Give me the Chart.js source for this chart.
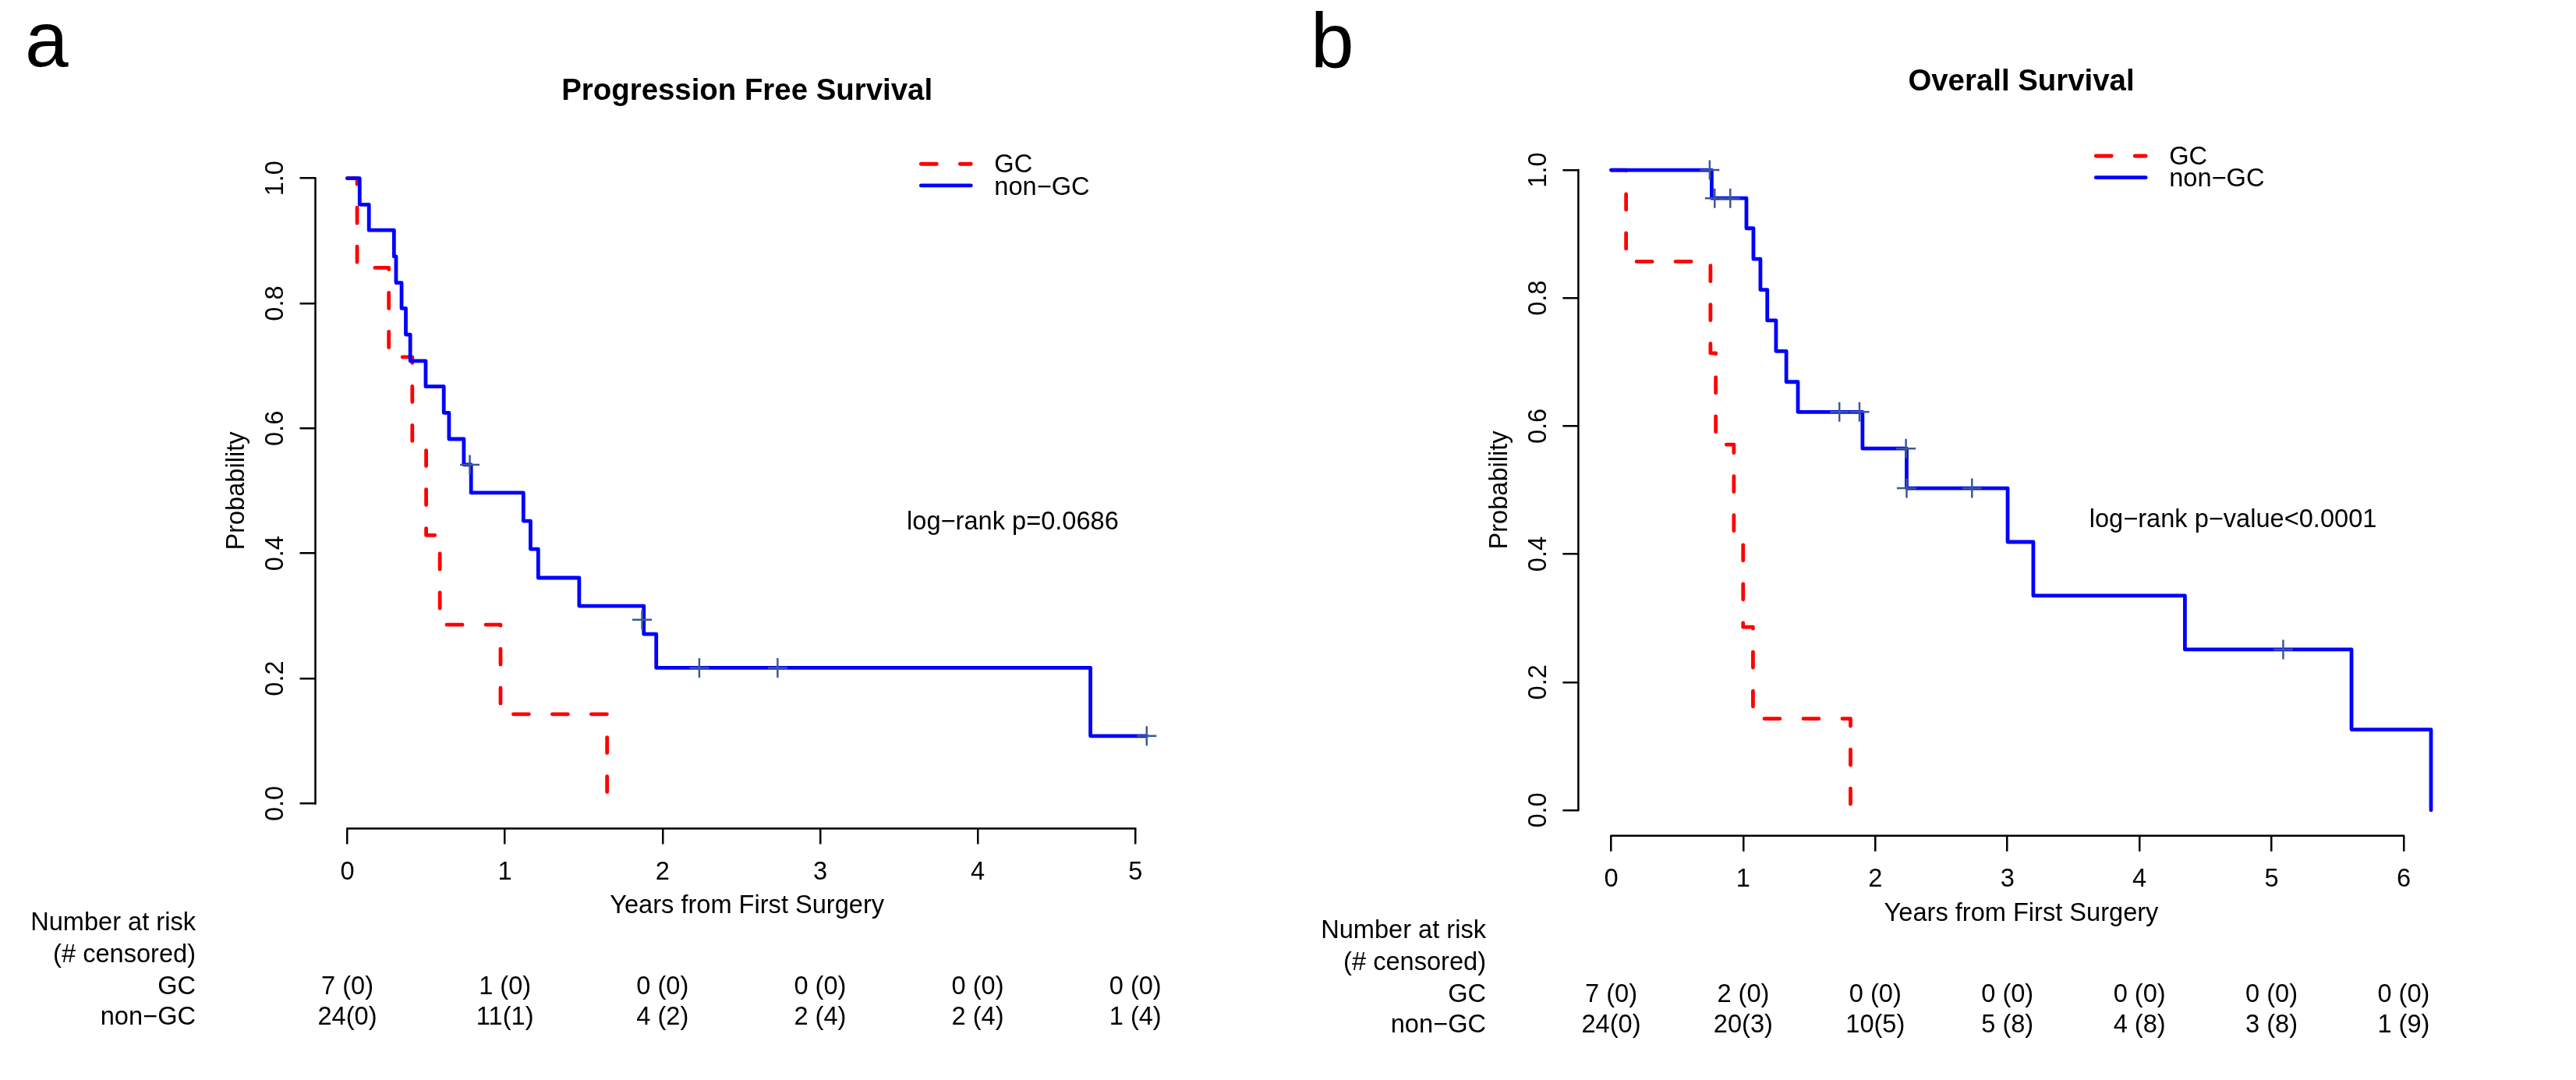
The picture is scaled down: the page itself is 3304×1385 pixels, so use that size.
<!DOCTYPE html>
<html>
<head>
  <title>GC vs non-GC survival</title>
  <script src="https://cdn.jsdelivr.net/npm/chart.js"></script>
  <style>
    body {
      margin: 0;
      background: #fff;
    }
    canvas {
      position: absolute;
      top: 0;
    }
    #pfsChart { left: 0; }
    #osChart { left: 1650px; }
  </style>
</head>
<body>
  <canvas id="pfsChart" width="1650" height="1385"></canvas>
  <canvas id="osChart" width="1654" height="1385"></canvas>

  <script>
    // ---- Progression free survival (panel a) ----
    const pfsGcTime = [0, 0.062, 0.263, 0.412, 0.500, 0.587, 0.972, 1.648];
    const pfsGcSurv = [1, 0.857, 0.714, 0.571, 0.429, 0.286, 0.143, 0];
    const pfsNonGcTime = [0, 0.078, 0.137, 0.296, 0.309, 0.344, 0.371, 0.399, 0.497, 0.612, 0.645,
                          0.739, 0.785, 1.117, 1.162, 1.211, 1.471, 1.881, 1.960, 4.715, 5.072];
    const pfsNonGcSurv = [1, 0.958, 0.917, 0.875, 0.833, 0.792, 0.750, 0.708, 0.667, 0.625, 0.583,
                          0.542, 0.497, 0.452, 0.407, 0.361, 0.316, 0.271, 0.217, 0.108, 0.108];
    const pfsCensorTime = [0.777, 1.870, 2.233, 2.730, 5.072];
    const pfsCensorSurv = [0.542, 0.294, 0.217, 0.217, 0.108];
    const pfsYearTicks = [0, 1, 2, 3, 4, 5];
    const pfsRiskGc = ['7 (0)', '1 (0)', '0 (0)', '0 (0)', '0 (0)', '0 (0)'];
    const pfsRiskNonGc = ['24(0)', '11(1)', '4 (2)', '2 (4)', '2 (4)', '1 (4)'];

    // ---- Overall survival (panel b) ----
    const osGcTime = [0, 0.113, 0.752, 0.792, 0.929, 0.999, 1.074, 1.812];
    const osGcSurv = [1, 0.857, 0.714, 0.571, 0.429, 0.286, 0.143, 0];
    const osNonGcTime = [0, 0.761, 1.024, 1.077, 1.130, 1.182, 1.248, 1.326, 1.414, 1.903,
                         2.237, 3.002, 3.196, 4.344, 5.605, 6.207];
    const osNonGcSurv = [1, 0.956, 0.909, 0.861, 0.813, 0.765, 0.717, 0.669, 0.622, 0.565,
                         0.503, 0.419, 0.335, 0.251, 0.126, 0];
    const osCensorTime = [0.746, 0.784, 0.902, 1.728, 1.880, 2.232, 2.237, 2.732, 5.088];
    const osCensorSurv = [1.0, 0.956, 0.956, 0.622, 0.622, 0.565, 0.503, 0.503, 0.251];
    const osYearTicks = [0, 1, 2, 3, 4, 5, 6];
    const osRiskGc = ['7 (0)', '2 (0)', '0 (0)', '0 (0)', '0 (0)', '0 (0)', '0 (0)'];
    const osRiskNonGc = ['24(0)', '20(3)', '10(5)', '5 (8)', '4 (8)', '3 (8)', '1 (9)'];

    const probTicks = [0, 0.2, 0.4, 0.6, 0.8, 1.0];
    // R draws the hyphen as a minus sign
    const groups = ['GC', 'non\u2212GC'];

    const FAMILY = '"Liberation Sans", Arial, Helvetica, sans-serif';
    const TXT = 32.6;
    const LW = 4.8;
    const RED = '#ff0000', BLUE = '#0000ff', CROSS = '#3b5998';
    const DASH = [20, 30];

    function font(size, bold) {
      return (bold ? 'bold ' : '') + size + 'px ' + FAMILY;
    }

    function pts(xs, ys) {
      return xs.map((t, i) => ({ x: t, y: ys[i] }));
    }

    // R style decorations: detached axis lines, titles, legend, number at risk table
    const kmDecor = {
      id: 'kmDecor',
      afterDraw(chart, args, o) {
        const { ctx, chartArea: a, scales: { x, y } } = chart;
        const xt = o.yearTicks;
        ctx.save();

        ctx.strokeStyle = '#000';
        ctx.lineWidth = 2.5;
        ctx.beginPath();
        ctx.moveTo(x.getPixelForValue(xt[0]) - 1.25, a.bottom);
        ctx.lineTo(x.getPixelForValue(xt[xt.length - 1]) + 1.25, a.bottom);
        ctx.moveTo(a.left, y.getPixelForValue(0) + 1.25);
        ctx.lineTo(a.left, y.getPixelForValue(1) - 1.25);
        ctx.stroke();

        ctx.fillStyle = '#000';
        ctx.font = font(100);
        ctx.textAlign = 'left';
        ctx.textBaseline = 'alphabetic';
        ctx.fillText(o.letter, o.letterPos[0], o.letterPos[1]);

        ctx.font = font(38.4, true);
        ctx.textAlign = 'center';
        ctx.fillText(o.title, (a.left + a.right) / 2, a.top - 69);

        ctx.font = font(TXT);
        ctx.textBaseline = 'middle';
        ctx.fillText('Years from First Surgery', (a.left + a.right) / 2, a.bottom + 100);
        ctx.save();
        ctx.translate(a.left - 100, y.getPixelForValue(0.5));
        ctx.rotate(-Math.PI / 2);
        ctx.fillText('Probability', 0, 0);
        ctx.restore();

        // legend
        const lx = x.getPixelForValue(o.legendAt[0]);
        const ly = y.getPixelForValue(o.legendAt[1]);
        ctx.lineWidth = LW;
        ctx.lineCap = 'round';
        [[RED, DASH], [BLUE, []]].forEach(([c, d], i) => {
          ctx.strokeStyle = c;
          ctx.setLineDash(d);
          ctx.beginPath();
          ctx.moveTo(lx, ly + i * 27.7);
          ctx.lineTo(lx + 64, ly + i * 27.7);
          ctx.stroke();
        });
        ctx.setLineDash([]);
        ctx.textAlign = 'left';
        groups.forEach((g, i) => ctx.fillText(g, lx + 94, ly + 2 + i * 28.5));

        ctx.fillText(o.pText, x.getPixelForValue(o.pAt[0]), y.getPixelForValue(o.pAt[1]));

        // number at risk
        const rowY = [122, 163, 204, 243].map(d => a.bottom + d);
        ctx.textAlign = 'right';
        ctx.fillText('Number at risk', o.riskLabelRight, rowY[0]);
        ctx.fillText('(# censored)', o.riskLabelRight, rowY[1]);
        ctx.fillText(groups[0], o.riskLabelRight, rowY[2]);
        ctx.fillText(groups[1], o.riskLabelRight, rowY[3]);
        ctx.textAlign = 'center';
        [o.riskGc, o.riskNonGc].forEach((row, r) => {
          row.forEach((s, i) => ctx.fillText(s, x.getPixelForValue(xt[i]), rowY[r + 2]));
        });
        ctx.restore();
      }
    };

    function kmChart(id, cfg) {
      const datasets = [
        {
          type: 'scatter',
          data: pts(cfg.censorTime, cfg.censorSurv),
          pointStyle: 'cross',
          pointRadius: 12.5,
          borderColor: CROSS,
          borderWidth: 2.5,
          order: 0
        },
        {
          data: pts(cfg.nonGcTime, cfg.nonGcSurv),
          borderColor: BLUE,
          order: 1
        },
        {
          data: pts(cfg.gcTime, cfg.gcSurv),
          borderColor: RED,
          borderDash: DASH,
          order: 2
        }
      ];
      datasets.slice(1).forEach(d => {
        d.type = 'line';
        d.stepped = true;
        d.borderWidth = LW;
        d.pointRadius = 0;
        d.fill = false;
        d.borderCapStyle = 'round';
        d.borderJoinStyle = 'round';
      });

      return new Chart(document.getElementById(id), {
        type: 'line',
        data: { datasets },
        options: {
          responsive: false,
          animation: false,
          events: [],
          layout: { padding: cfg.padding },
          plugins: {
            legend: { display: false },
            tooltip: { enabled: false },
            kmDecor: cfg.decor
          },
          scales: {
            x: {
              type: 'linear',
              min: cfg.xRange[0],
              max: cfg.xRange[1],
              afterBuildTicks: s => { s.ticks = cfg.decor.yearTicks.map(v => ({ value: v })); },
              afterFit: s => { s.height = 100; },
              grid: { drawOnChartArea: false, drawTicks: true, tickLength: 20, color: '#000', lineWidth: 2.5 },
              border: { display: false },
              ticks: { color: '#000', font: { family: FAMILY, size: TXT }, padding: 17, maxRotation: 0, autoSkip: false }
            },
            y: {
              type: 'linear',
              min: -0.04,
              max: 1.04,
              afterBuildTicks: s => { s.ticks = probTicks.map(v => ({ value: v })); },
              afterFit: s => { s.width = 100; },
              grid: { drawOnChartArea: false, drawTicks: true, tickLength: 20, color: '#000', lineWidth: 2.5 },
              border: { display: false },
              ticks: {
                color: '#000',
                font: { family: FAMILY, size: TXT },
                minRotation: 90,
                maxRotation: 90,
                crossAlign: 'center',
                padding: 8,
                autoSkip: false,
                callback: v => v.toFixed(1)
              }
            }
          }
        },
        plugins: [kmDecor]
      });
    }

    kmChart('pfsChart', {
      gcTime: pfsGcTime, gcSurv: pfsGcSurv,
      nonGcTime: pfsNonGcTime, nonGcSurv: pfsNonGcSurv,
      censorTime: pfsCensorTime, censorSurv: pfsCensorSurv,
      xRange: [-0.2029, 5.2749],
      padding: { left: 304.5, right: 138.2, top: 196.6, bottom: 222.5 },
      decor: {
        letter: 'a', letterPos: [32, 85],
        title: 'Progression Free Survival',
        yearTicks: pfsYearTicks,
        legendAt: [3.64, 1.023],
        pText: 'log\u2212rank p=0.0686', pAt: [3.55, 0.45],
        riskLabelRight: 251,
        riskGc: pfsRiskGc, riskNonGc: pfsRiskNonGc
      }
    });

    kmChart('osChart', {
      gcTime: osGcTime, gcSurv: osGcSurv,
      nonGcTime: osNonGcTime, nonGcSurv: osNonGcSurv,
      censorTime: osCensorTime, censorSurv: osCensorSurv,
      xRange: [-0.2484, 6.4584],
      padding: { left: 274.4, right: 143.4, top: 185.2, bottom: 213.2 },
      decor: {
        letter: 'b', letterPos: [31, 87],
        title: 'Overall Survival',
        yearTicks: osYearTicks,
        legendAt: [3.67, 1.022],
        pText: 'log\u2212rank p\u2212value<0.0001', pAt: [3.62, 0.453],
        riskLabelRight: 256,
        riskGc: osRiskGc, riskNonGc: osRiskNonGc
      }
    });
  </script>
</body>
</html>
